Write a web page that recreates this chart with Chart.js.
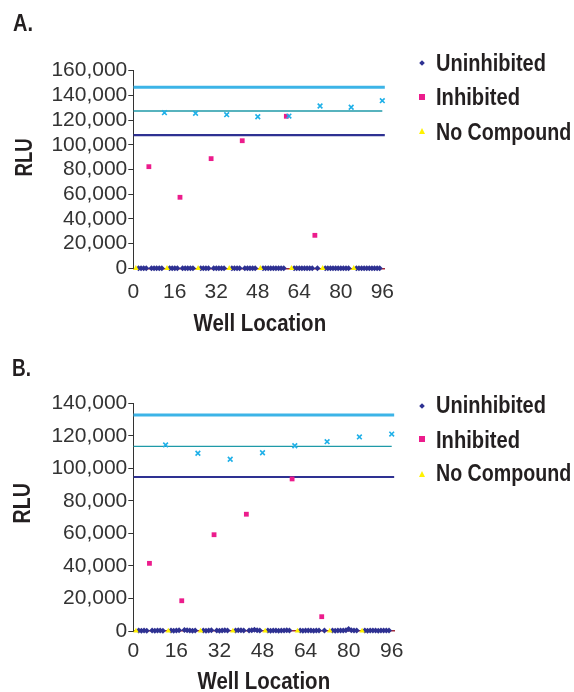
<!DOCTYPE html>
<html>
<head>
<meta charset="utf-8">
<script src="https://cdn.jsdelivr.net/npm/chart.js@4.4.1/dist/chart.umd.min.js"></script>
<style>
  html, body { margin: 0; padding: 0; background: #fff; overflow: hidden; }
  body { width: 574px; height: 692px; position: relative; color: #231f20;
         font-family: 'Liberation Sans', Arial, Helvetica, sans-serif; }
  canvas { position: absolute; left: 0; }
  .lbl { position: absolute; font-weight: bold; font-size: 24px; line-height: 24px; white-space: nowrap; }
  .lbl span { display: inline-block; transform-origin: left center; }
  .ctr { text-align: center; }
  .ctr span { transform-origin: center center; }
  .ytitle { position: absolute; width: 80px; height: 30px; line-height: 30px; text-align: center;
            font-weight: bold; font-size: 24px; transform: rotate(-90deg); }
  .ytitle span { display: inline-block; transform-origin: center center; }
  .mk { position: absolute; }
  .diamond { width: 4px; height: 4px; background: #2e3192; transform: rotate(45deg); }
  .square { width: 6px; height: 6px; background: #ec1c8c; }
  .triangle { width: 0; height: 0; border-left: 3px solid transparent; border-right: 3px solid transparent;
              border-bottom: 6px solid #fff200; }
</style>
</head>
<body>
<canvas id="chartA" width="420" height="345" style="top:0px"></canvas>
<canvas id="chartB" width="420" height="360" style="top:345px"></canvas>

<div class="lbl" style="left:13px; top:11px"><span data-w="20">A.</span></div>
<div class="lbl" style="left:12px; top:356px"><span data-w="19">B.</span></div>
<div class="ytitle" style="left:-16px; top:142px"><span data-w="38">RLU</span></div>
<div class="ytitle" style="left:-18px; top:488px"><span data-w="40">RLU</span></div>
<div class="lbl ctr" style="left:160px; width:200px; top:311px"><span data-w="133">Well Location</span></div>
<div class="lbl ctr" style="left:164px; width:200px; top:669px"><span data-w="133">Well Location</span></div>

<div class="mk diamond" style="left:420px; top:61px"></div>
<div class="lbl" style="left:436px; top:51px"><span data-w="110">Uninhibited</span></div>
<div class="mk square" style="left:419px; top:94px"></div>
<div class="lbl" style="left:436px; top:85px"><span data-w="84">Inhibited</span></div>
<div class="mk triangle" style="left:419px; top:128px"></div>
<div class="lbl" style="left:436px; top:120px"><span data-w="135">No Compound</span></div>

<div class="mk diamond" style="left:420px; top:404px"></div>
<div class="lbl" style="left:436px; top:393px"><span data-w="110">Uninhibited</span></div>
<div class="mk square" style="left:419px; top:436px"></div>
<div class="lbl" style="left:436px; top:428px"><span data-w="84">Inhibited</span></div>
<div class="mk triangle" style="left:419px; top:471px"></div>
<div class="lbl" style="left:436px; top:461px"><span data-w="135">No Compound</span></div>

<script>
// well positions (x axis)
const uninhibitedWells = [2, 3, 4, 5, 7, 8, 9, 10, 11,
  14, 15, 16, 17, 19, 20, 21, 22, 23,
  26, 27, 28, 29, 31, 32, 33, 34, 35,
  38, 39, 40, 41, 43, 44, 45, 46, 47,
  50, 51, 52, 53, 54, 55, 56, 57, 58,
  62, 63, 64, 65, 66, 67, 68, 69, 71,
  74, 75, 76, 77, 78, 79, 80, 81, 82, 83,
  86, 87, 88, 89, 90, 91, 92, 93, 94, 95];
const inhibitedWells = [6, 18, 30, 42, 59, 70];
const noCompoundWells = [1, 13, 25, 37, 49, 61, 73, 85];
const controlWells = [12, 24, 36, 48, 60, 72, 84, 96];

// panel A values (RLU)
const uninhibitedA = [0, 0, 0, 0, 0, 0, 0, 0, 0,
  0, 0, 0, 0, 0, 0, 0, 0, 0,
  0, 0, 0, 0, 0, 0, 0, 0, 0,
  0, 0, 0, 0, 0, 0, 0, 0, 0,
  0, 0, 0, 0, 0, 0, 0, 0, 0,
  0, 0, 0, 0, 0, 0, 0, 0, 0,
  0, 0, 0, 0, 0, 0, 0, 0, 0, 0,
  0, 0, 0, 0, 0, 0, 0, 0, 0, 0];
const inhibitedA = [82300, 57500, 88800, 103300, 123100, 26700];
const noCompoundA = [0, 0, 0, 0, 0, 0, 0, 0];
const controlA = [126000, 125500, 124400, 122700, 123300, 131400, 130400, 135700];
const limitsA = [146600, 127400, 107900]; // upper, mean, lower

// panel B values (RLU)
const uninhibitedB = [300, 200, 300, 200, 300, 200, 300, 300, 200,
  300, 200, 300, 400, 600, 500, 300, 200, 300,
  300, 200, 300, 400, 300, 200, 300, 400, 300,
  300, 500, 400, 300, 300, 400, 700, 500, 300,
  300, 200, 300, 300, 200, 300, 300, 400, 300,
  300, 200, 300, 300, 300, 200, 300, 300, 300,
  300, 200, 300, 300, 300, 400, 1200, 500, 300, 300,
  300, 200, 300, 300, 300, 200, 300, 300, 300, 300];
const inhibitedB = [41600, 18600, 59200, 71800, 93500, 8800];
const noCompoundB = [0, 0, 0, 0, 0, 0, 0, 0];
const controlB = [114400, 109300, 105600, 109600, 113900, 116400, 119300, 121100];
const limitsB = [132800, 113500, 94700];

const fullSpan = [0, 97];
const meanSpan = [0, 96];
const xTickValues = [0, 16, 32, 48, 64, 80, 96];
const yTicksA = [0, 20000, 40000, 60000, 80000, 100000, 120000, 140000, 160000];
const yTicksB = [0, 20000, 40000, 60000, 80000, 100000, 120000, 140000];

const tickFont = { family: "'Liberation Sans', Arial, sans-serif", size: 21 };

function pts(xs, ys) {
  return xs.map((x, i) => ({ x: x, y: ys[i] }));
}

function hLine(span, y) {
  return span.map(x => ({ x: x, y: y }));
}

function drawPanel(canvasId, d) {
  const ctx = document.getElementById(canvasId).getContext('2d');
  new Chart(ctx, {
    type: 'scatter',
    data: {
      datasets: [
        { label: 'Upper', data: hLine(fullSpan, d.limits[0]), showLine: true, borderColor: '#3cb4e7',
          borderWidth: 3, pointRadius: 0, order: 7 },
        { label: 'Mean', data: hLine(meanSpan, d.limits[1]), showLine: true, borderColor: '#1f9aa8',
          borderWidth: 1.4, pointRadius: 0, order: 6 },
        { label: 'Lower', data: hLine(fullSpan, d.limits[2]), showLine: true, borderColor: '#2e3192',
          borderWidth: 2.2, pointRadius: 0, order: 5 },
        { label: 'Uninhibited', data: pts(uninhibitedWells, d.uninhibited), pointStyle: 'rectRot',
          pointRadius: 3, backgroundColor: '#2e3192', borderWidth: 0, clip: false, order: 4 },
        { label: 'No Compound', data: pts(noCompoundWells, d.noCompound), pointStyle: 'triangle',
          pointRadius: 3.2, backgroundColor: '#fff200', borderWidth: 0, clip: false, order: 3 },
        { label: 'Inhibited', data: pts(inhibitedWells, d.inhibited), pointStyle: 'rect',
          pointRadius: 3.4, backgroundColor: '#ec1c8c', borderWidth: 0, clip: false, order: 2 },
        { label: 'Control', data: pts(controlWells, d.control), pointStyle: 'crossRot',
          pointRadius: 3.3, borderColor: '#1fb0e8', borderWidth: 1.6, clip: false, order: 1 }
      ]
    },
    options: {
      responsive: false,
      animation: false,
      events: [],
      layout: { padding: d.padding },
      plugins: { legend: { display: false }, tooltip: { enabled: false } },
      scales: {
        x: {
          type: 'linear', min: 0, max: 97,
          afterFit: s => { s.height = d.xHeight; },
          afterBuildTicks: s => { s.ticks = xTickValues.map(v => ({ value: v })); },
          grid: { display: false, drawTicks: false },
          border: { color: '#9e2b3c', width: 1.5 },
          ticks: { padding: d.xTickPad, color: '#333', font: tickFont, maxRotation: 0, autoSkip: false }
        },
        y: {
          type: 'linear', min: 0, max: d.yMax,
          afterFit: s => { s.width = 133.3; },
          afterBuildTicks: s => { s.ticks = d.yTicks.map(v => ({ value: v })); },
          grid: { drawOnChartArea: false, drawTicks: true, tickLength: 5, color: '#333' },
          border: { color: '#333', width: 1 },
          ticks: { padding: 1, color: '#333', font: tickFont, autoSkip: false,
                   callback: v => v.toLocaleString('en-US') }
        }
      }
    }
  });
}

drawPanel('chartA', {
  uninhibited: uninhibitedA, inhibited: inhibitedA, noCompound: noCompoundA, control: controlA,
  limits: limitsA, yMax: 160000, yTicks: yTicksA,
  padding: { top: 70.7, right: 35.1, bottom: 0, left: 0 },
  xHeight: 76.7, xTickPad: 11.8
});

drawPanel('chartB', {
  uninhibited: uninhibitedB, inhibited: inhibitedB, noCompound: noCompoundB, control: controlB,
  limits: limitsB, yMax: 140000, yTicks: yTicksB,
  padding: { top: 58.3, right: 25.6, bottom: 0, left: 0 },
  xHeight: 74, xTickPad: 8.1
});

// the printed labels use a condensed bold face; squeeze ours to the same widths
document.querySelectorAll('span[data-w]').forEach(el => {
  const k = Number(el.dataset.w) / el.offsetWidth;
  el.style.transform = 'scaleX(' + k.toFixed(3) + ')';
});
</script>
</body>
</html>
